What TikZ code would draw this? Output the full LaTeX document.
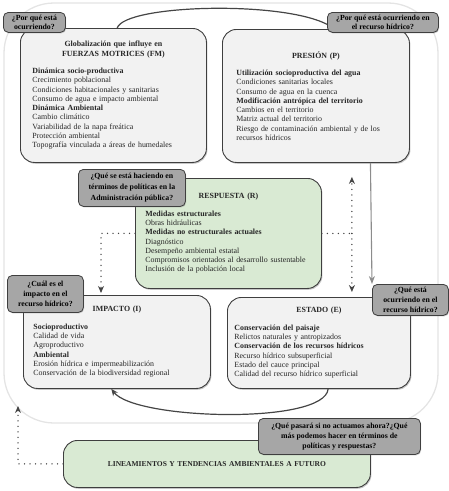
\documentclass[tikz,border=0pt]{standalone}
\usepackage{fontspec}
\setmainfont{Liberation Serif}
\usetikzlibrary{arrows.meta,shadows,calc}

\definecolor{boxline}{HTML}{3F3F3F}
\definecolor{boxfill}{HTML}{F2F2F2}
\definecolor{greenfill}{HTML}{D9EAD3}
\definecolor{qfill}{HTML}{A6A6A6}
\definecolor{arrowgray}{HTML}{454545}
\definecolor{lightarrow}{HTML}{8C8C8C}
\definecolor{outerline}{HTML}{E4E4E4}

\pgfdeclarelayer{front}
\pgfsetlayers{main,front}

\newcommand\boxtitle[1]{\centering\textbf{#1}\par\vspace{8pt}\raggedright}

\tikzset{
  bigbox/.style={draw=boxline, fill=boxfill, line width=0.9pt, rounded corners=14pt,
    anchor=north west, align=left, inner ysep=4pt, text=black!85,
    font=\fontsize{7.9pt}{9.3pt}\selectfont,
    drop shadow={shadow xshift=1pt, shadow yshift=-1.3pt, opacity=0.45}},
  qbox/.style={draw=boxline, fill=qfill, line width=0.8pt, rounded corners=5pt,
    anchor=north west, align=center, inner sep=1pt,
    font=\bfseries\fontsize{7.8pt}{9.8pt}\selectfont,
    drop shadow={shadow xshift=0.8pt, shadow yshift=-1pt, opacity=0.4}},
  cyclearrow/.style={draw=arrowgray, line width=1.2pt, -{Stealth[length=7pt,width=6pt]}},
  dotarrow/.style={draw=arrowgray, line width=1.5pt, line cap=round,
    dash pattern=on 0pt off 5.5pt, -{Stealth[length=7pt,width=6pt]}},
}

\begin{document}
\begin{tikzpicture}[x=1pt,y=-1pt]
\useasboundingbox (0,0) rectangle (449,491);

% marco del ciclo
\draw[outerline, line width=1.3pt, rounded corners=50pt] (4,3) rectangle (438,423);

% cajas principales
\node[bigbox, minimum width=186pt, minimum height=134pt, text width=162pt, inner xsep=12pt] (FM) at (20,28)
  {\boxtitle{Globalización que influye en\\FUERZAS MOTRICES (FM)}%
   \textbf{Dinámica socio-productiva}\\
   Crecimiento poblacional\\
   Condiciones habitacionales y sanitarias\\
   Consumo de agua e impacto ambiental\\
   \textbf{Dinámica Ambiental}\\
   Cambio climático\\
   Variabilidad de la napa freática\\
   Protección ambiental\\
   Topografía vinculada a áreas de humedales};
\node[bigbox, minimum width=187pt, minimum height=133pt, text width=159pt, inner xsep=14pt] (P) at (222,29)
  {\boxtitle{PRESIÓN (P)}%
   \textbf{Utilización socioproductiva del agua}\\
   Condiciones sanitarias locales\\
   Consumo de agua en la cuenca\\
   \textbf{Modificación antrópica del territorio}\\
   Cambios en el territorio\\
   Matriz actual del territorio\\
   Riesgo de contaminación ambiental y de los\\
   recursos hídricos};
\node[bigbox, fill=greenfill, minimum width=186pt, minimum height=110pt, text width=166pt, inner xsep=10pt] (R) at (135,178)
  {\boxtitle{RESPUESTA (R)}%
   \textbf{Medidas estructurales}\\
   Obras hidráulicas\\
   \textbf{Medidas no estructurales actuales}\\
   Diagnóstico\\
   Desempeño ambiental estatal\\
   Compromisos orientados al desarrollo sustentable\\
   Inclusión de la población local};
\node[bigbox, minimum width=187pt, minimum height=93pt, text width=167pt, inner xsep=10pt] (I) at (23,295)
  {\boxtitle{IMPACTO (I)}%
   \textbf{Socioproductivo}\\
   Calidad de vida\\
   Agroproductivo\\
   \textbf{Ambiental}\\
   Erosión hídrica e impermeabilización\\
   Conservación de la biodiversidad regional};
\node[bigbox, minimum width=183pt, minimum height=91pt, text width=169pt, inner xsep=7pt] (E) at (227,297)
  {\boxtitle{ESTADO (E)}%
   \textbf{Conservación del paisaje}\\
   Relictos naturales y antropizados\\
   \textbf{Conservación de los recursos hídricos}\\
   Recurso hídrico subsuperficial\\
   Estado del cauce principal\\
   Calidad del recurso hídrico superficial};
\node[bigbox, fill=greenfill, align=center, minimum width=307pt, minimum height=47pt, text width=290pt, inner xsep=8pt,
  font=\bfseries\fontsize{7.5pt}{9pt}\selectfont] (L) at (63,440)
  {LINEAMIENTOS Y TENDENCIAS AMBIENTALES A FUTURO};

% preguntas
\begin{pgfonlayer}{front}
\node[qbox, minimum width=62pt, minimum height=20pt] (qFM) at (3,12) {¿Por qué está\\ocurriendo?};
\node[qbox, minimum width=111pt, minimum height=20pt] (qP) at (327,12) {¿Por qué está ocurriendo en\\el recurso hídrico?};
\node[qbox, minimum width=107pt, minimum height=37pt, font=\bfseries\fontsize{7.8pt}{10.8pt}\selectfont] (qR) at (78,169)
  {¿Qué se está haciendo en\\términos de políticas en la\\Administración pública?};
\node[qbox, minimum width=76pt, minimum height=37pt] (qI) at (7,275) {¿Cuál es el\\impacto en el\\recurso hídrico?};
\node[qbox, minimum width=76pt, minimum height=31pt] (qE) at (372,284) {¿Qué está\\ocurriendo en el\\recurso hídrico?};
\node[qbox, minimum width=162pt, minimum height=36pt] (qL) at (258,418)
  {¿Qué pasará si no actuamos ahora?¿Qué\\más podemos hacer en términos de\\políticas y respuestas?};
\end{pgfonlayer}

% flechas del ciclo
\draw[cyclearrow] ($(FM.north west)!0.52!(FM.north east)$) .. controls (125,4) and (290,0) .. ($(P.north west)!0.6!(P.north east)$);
\draw[draw=lightarrow, line width=1.1pt, -{Stealth[length=8pt,width=6pt]}] ($(P.south west)!0.79!(P.south east)$) -- (qE.north west);
\draw[cyclearrow] ($(E.south west)!0.55!(E.south east)$) .. controls (325,425) and (135,420) .. ($(I.south west)!0.47!(I.south east)$);

% respuestas punteadas
\coordinate (jR) at ($(R.east)+(30,0)$);
\coordinate (jI) at ($(R.west)+(-34,0)$);
\draw[dotarrow, -] (R.east) -- (jR);
\draw[dotarrow] (jR) -- ([yshift=-14pt]P.south -| jR);
\draw[dotarrow] (jR) -- ([yshift=5pt]E.north -| jR);
\draw[dotarrow] (R.west) -- (jI) -- ([yshift=2pt]I.north -| jI);
\coordinate (jL) at ($(L.west)+(-45,0)$);
\draw[dotarrow] (L.west) -- (jL) -- (jL |- 0,406);
\end{tikzpicture}
\end{document}
